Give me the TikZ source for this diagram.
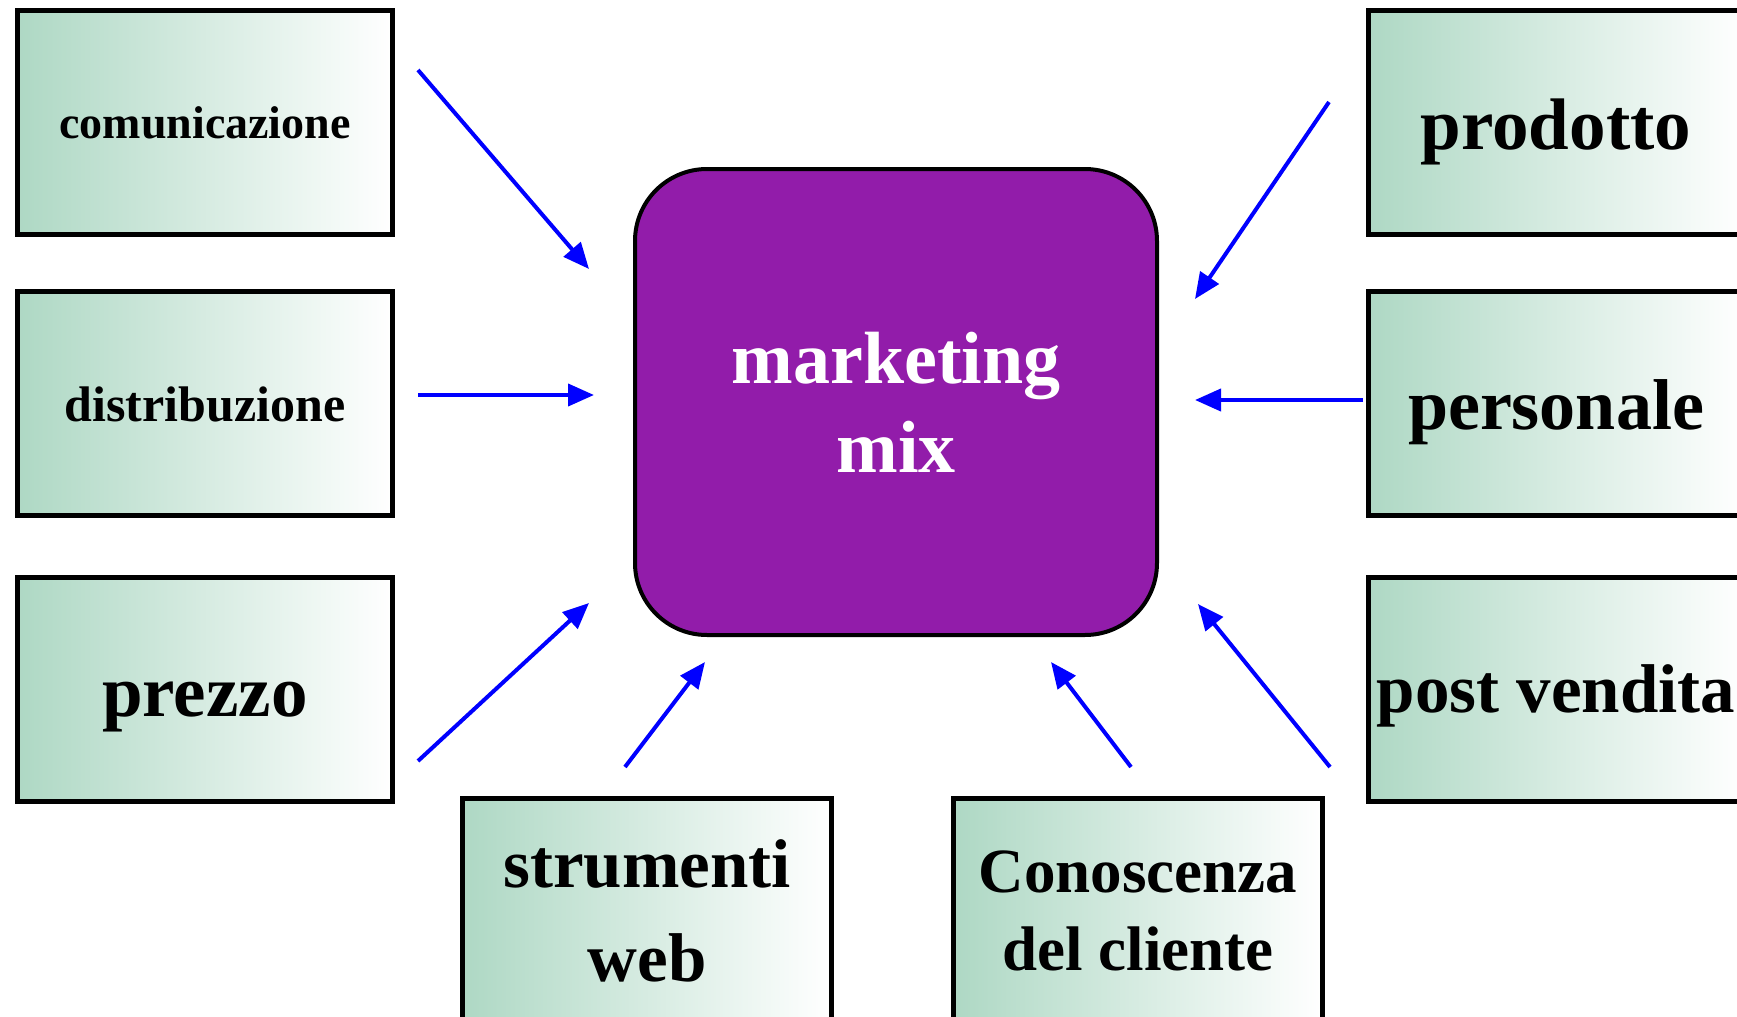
\documentclass[tikz,border=0pt]{standalone}
\usepackage{fontspec}
\setmainfont{Liberation Serif}
\usetikzlibrary{arrows.meta}
\definecolor{mixviola}{RGB}{146,28,170}
\definecolor{levaverde}{RGB}{174,216,196}
\tikzset{
	leva/.style={rectangle, draw=black, line width=2.5pt, left color=levaverde, right color=white,
		minimum width=187.5pt, minimum height=112pt, inner sep=0pt, align=center},
	testo/.style 2 args={font=\bfseries\fontsize{#1}{#2}\selectfont},
	riga/.style={text height=#1, text depth=0pt},
	mixbox/.style={rectangle, rounded corners=36pt, draw=black, line width=2pt, fill=mixviola,
		text=white, minimum width=261pt, minimum height=233pt, align=center},
	freccia/.style={draw=blue, line width=2pt, -{Triangle[length=13pt,width=11pt]}}
}

\begin{document}
\begin{tikzpicture}[x=0.5pt, y=-0.5pt]
		\useasboundingbox (0, 0) rectangle (1737, 1017);
		%%%%% START %%%%%
		
		\node[mixbox, testo={37}{44.5}] (mix) at (896, 402) {marketing\\mix};
		
		\node[leva, testo={23}{28}, riga=15.5pt] (comunicazione) at (205, 122.5) {comunicazione};
		\node[leva, testo={25}{30}, riga=18pt] (distribuzione) at (205, 403) {distribuzione};
		\node[leva, testo={36.5}{44}, riga=27pt] (prezzo) at (205, 689) {prezzo};
		
		\node[leva, testo={36.5}{44}, riga=27pt] (prodotto) at (1556, 122.5) {prodotto};
		\node[leva, testo={36}{44}, riga=26pt] (personale) at (1556, 403) {personale};
		\node[leva, testo={34.5}{42}, riga=23pt] (postvendita) at (1556, 689) {post vendita};
		
		\node[leva, minimum width=184.5pt, testo={34.5}{47}] (web) at (647, 910.5) {strumenti\\web};
		\node[leva, minimum width=184.5pt, testo={31.5}{39}] (cliente) at (1138, 910.5) {Conoscenza\\del cliente};
		
		\coordinate (c1) at (418, 70);    \coordinate (m1) at (589, 269);
		\coordinate (c2) at (418, 395);   \coordinate (m2) at (594, 395);
		\coordinate (c3) at (418, 761);   \coordinate (m3) at (589, 603);
		\coordinate (c4) at (625, 767);   \coordinate (m4) at (705, 662);
		\coordinate (c5) at (1131, 767);  \coordinate (m5) at (1051, 662);
		\coordinate (c6) at (1330, 767);  \coordinate (m6) at (1198, 604);
		\coordinate (c7) at (1363, 400);  \coordinate (m7) at (1195, 400);
		\coordinate (c8) at (1329, 102);  \coordinate (m8) at (1195, 299);
		
		\foreach \i in {1,...,8}
			\draw[freccia] (c\i) -- (m\i);
		
		%%%%% END %%%%%
\end{tikzpicture}
\end{document}
